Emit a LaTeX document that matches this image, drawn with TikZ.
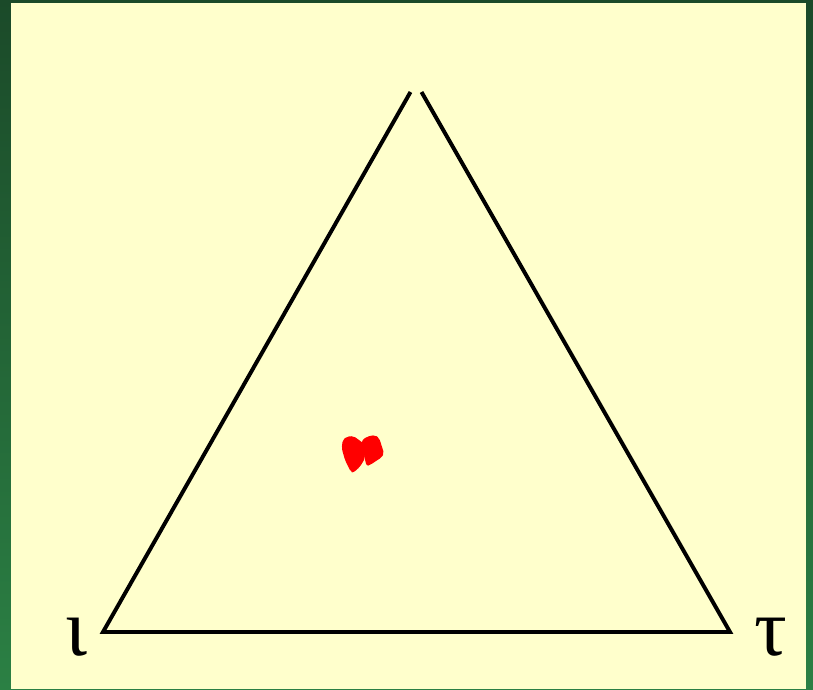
\documentclass[tikz,border=0pt]{standalone}
\usepackage{fontspec}
\setmainfont{Liberation Serif}
\usepackage{tikz}

\begin{document}
\begin{tikzpicture}[x=0.025cm,y=-0.025cm]
\definecolor{frameTop}{HTML}{1B4A29}
\definecolor{frameBottom}{HTML}{2B8044}
\definecolor{paneFill}{HTML}{FFFFCC}
\definecolor{blobRed}{HTML}{FF0000}
\tikzset{edge/.style={line width=2.8pt,line cap=butt},
  vlabel/.style={anchor=base,inner sep=0pt,font=\fontsize{58}{58}\selectfont}}
\useasboundingbox (0,0) rectangle (813,689);
\shade[top color=frameTop,bottom color=frameBottom] (0,0) rectangle (813,689);
\fill[paneFill] (11,3) rectangle (806,689);
% corners of the triangle, the apex is left open
\coordinate (iotaV) at (103,632);
\coordinate (tauV) at (730,632);
\coordinate (apexL) at (410.5,92);
\coordinate (apexR) at (421.5,92);
\draw[edge] (apexL) -- (iotaV) -- (tauV) -- (apexR);
\node[vlabel] (iotaLab) at (76,655) {ι};
\node[vlabel] (tauLab) at (771,655) {τ};
% red mark
\fill[blobRed,rounded corners=1.5pt] (342.7,440) -- (346.7,436.7) -- (353.3,436) -- (360,440.7)
  -- (363.3,443.3) -- (365,458.3) -- (360,466.7) -- (353.3,472.7) -- (350.7,471.7)
  -- (345,460) -- (341.7,448.3) -- cycle;
\fill[blobRed,rounded corners=1.5pt] (361.7,440.7) -- (366.7,436.7) -- (375,435) -- (379.3,438.3)
  -- (384,453.3) -- (381.7,457.3) -- (370,465) -- (366.7,466) -- (365,460) -- (363.3,450) -- cycle;
\end{tikzpicture}
\end{document}
